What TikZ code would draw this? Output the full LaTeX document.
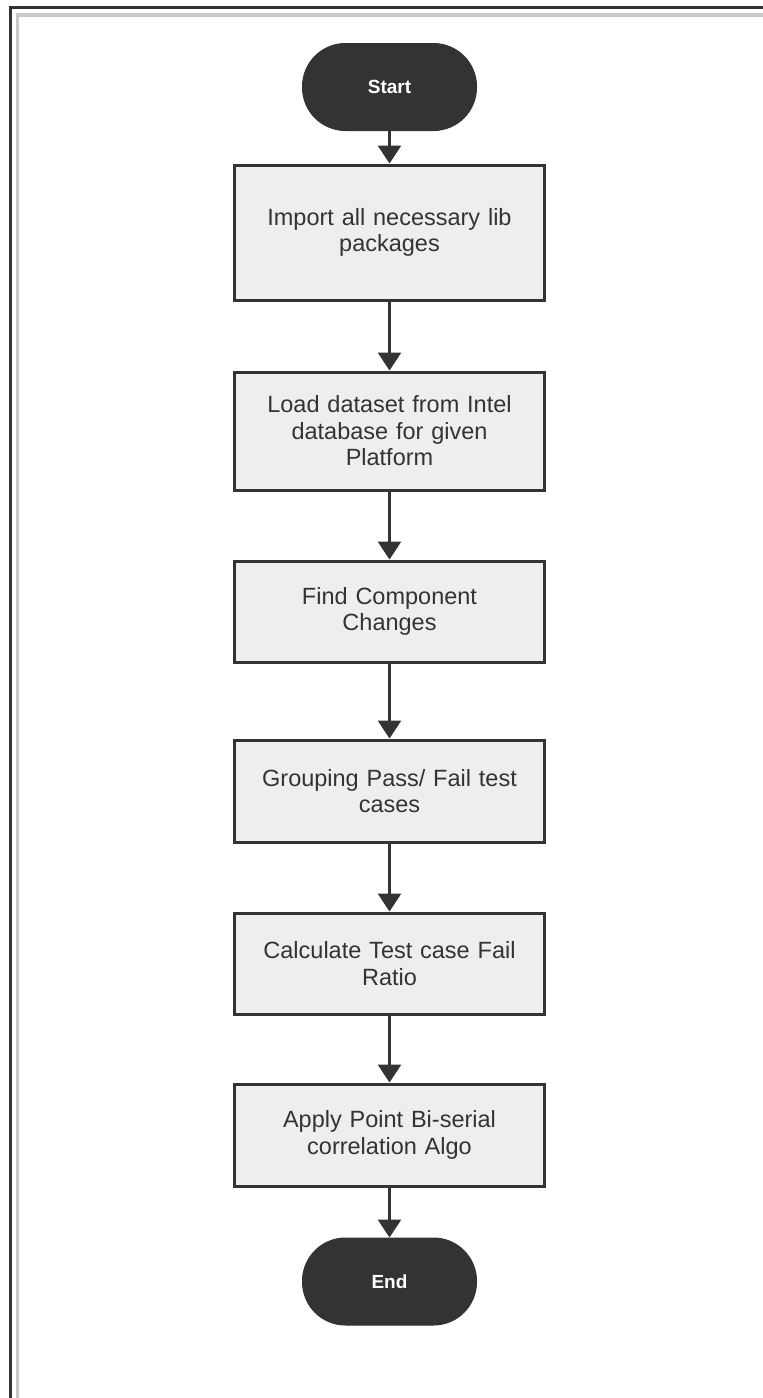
\documentclass[tikz,border=0pt]{standalone}
\usepackage{fontspec}
\setmainfont{Liberation Sans}
\usetikzlibrary{arrows.meta}
\definecolor{dk}{HTML}{333333}
\definecolor{boxfill}{HTML}{EEEEEE}
\definecolor{framegray}{HTML}{C8C8C8}
\begin{document}
\begin{tikzpicture}[x=1pt,y=-1pt,
  proc/.style={draw=dk, line width=3pt, fill=boxfill, minimum width=310pt,
    text width=300pt, align=center, font=\fontsize{23.5}{26.5}\selectfont,
    text=dk, inner sep=0pt},
  term/.style={draw=dk, fill=dk, rounded corners=43pt, minimum width=174pt,
    minimum height=87pt, text=white, font=\fontsize{19}{22}\selectfont\bfseries,
    line width=1pt},
  flow/.style={draw=dk, line width=3pt, -{Triangle[width=23pt,length=18pt]}}]
\useasboundingbox (0,0) rectangle (763,1398);
\fill[white] (0,0) rectangle (763,1398);
\draw[dk, line width=3pt] (10,1398) -- (10,7.5) -- (763,7.5);
\draw[framegray, line width=3.5pt] (17.5,1398) -- (17.5,15) -- (763,15);

\node[term] (start) at (389.5,87) {Start};
\node[proc, minimum height=135pt] (b1) at (389.5,232.5) {Import all necessary lib\\packages};
\node[proc, minimum height=118pt] (b2) at (389.5,431) {Load dataset from Intel\\database for given\\Platform};
\node[proc, minimum height=101pt] (b3) at (389.5,611.5) {Find Component\\Changes};
\node[proc, minimum height=102pt] (b4) at (389.5,791) {Grouping Pass/ Fail test\\cases};
\node[proc, minimum height=101pt] (b5) at (389.5,963.5) {Calculate Test case Fail\\Ratio};
\node[proc, minimum height=102pt] (b6) at (389.5,1135) {Apply Point Bi-serial\\correlation Algo};
\node[term] (end) at (389.5,1281.5) {End};

\draw[flow] (start) -- (b1);
\draw[flow] (b1) -- (b2);
\draw[flow] (b2) -- (b3);
\draw[flow] (b3) -- (b4);
\draw[flow] (b4) -- (b5);
\draw[flow] (b5) -- (b6);
\draw[flow] (b6) -- (end);
\end{tikzpicture}
\end{document}
